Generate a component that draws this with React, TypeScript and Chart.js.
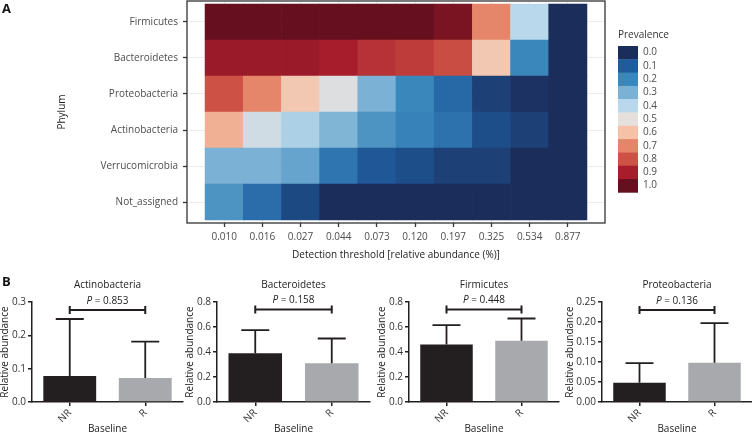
import React, { useEffect, useRef } from "react";
import { Chart, registerables } from "chart.js";

Chart.register(...registerables);
Chart.defaults.font.family = "'Open Sans', 'DejaVu Sans', sans-serif";

// ---------- Heatmap data (panel A) ----------
const thresholds = ["0.010", "0.016", "0.027", "0.044", "0.073", "0.120", "0.197", "0.325", "0.534", "0.877"];
const phyla = ["Firmicutes", "Bacteroidetes", "Proteobacteria", "Actinobacteria", "Verrucomicrobia", "Not_assigned"];
const prevFirmicutes = [1.0, 1.0, 1.0, 1.0, 1.0, 1.0, 0.97, 0.7, 0.4, 0.0];
const prevBacteroidetes = [0.92, 0.92, 0.92, 0.9, 0.86, 0.84, 0.81, 0.58, 0.2, 0.0];
const prevProteobacteria = [0.8, 0.7, 0.58, 0.48, 0.3, 0.2, 0.13, 0.04, 0.01, 0.0];
const prevActinobacteria = [0.63, 0.45, 0.38, 0.31, 0.23, 0.19, 0.15, 0.07, 0.04, 0.0];
const prevVerrucomicrobia = [0.3, 0.3, 0.27, 0.16, 0.09, 0.07, 0.04, 0.04, 0.0, 0.0];
const prevNotAssigned = [0.23, 0.14, 0.06, 0.0, 0.0, 0.0, 0.0, 0.0, 0.0, 0.0];
const prevalenceRows = [prevFirmicutes, prevBacteroidetes, prevProteobacteria, prevActinobacteria, prevVerrucomicrobia, prevNotAssigned];

const legendLevels = ["0.0", "0.1", "0.2", "0.3", "0.4", "0.5", "0.6", "0.7", "0.8", "0.9", "1.0"];
const legendColors = ["#1b2d5b", "#1f5c9e", "#3a87bc", "#7ab1d4", "#b9d8eb", "#e6e0dc", "#f5c2a7", "#e58569", "#cd5245", "#a71d2c", "#66101f"];

// ---------- Bar chart data (panel B) ----------
const groups = ["NR", "R"];
const actinoMeans = [0.078, 0.072];
const actinoUpper = [0.249, 0.181];
const bacteroMeans = [0.39, 0.31];
const bacteroUpper = [0.575, 0.508];
const firmiMeans = [0.46, 0.49];
const firmiUpper = [0.615, 0.668];
const proteoMeans = [0.048, 0.098];
const proteoUpper = [0.097, 0.197];
const pValues = ["0.853", "0.158", "0.448", "0.136"];
const bracketLevels = [0.276, 0.74, 0.74, 0.23];
const panelTitles = ["Actinobacteria", "Bacteroidetes", "Firmicutes", "Proteobacteria"];
const yMaxes = [0.3, 0.8, 0.8, 0.25];
const ySteps = [0.1, 0.2, 0.2, 0.05];
const yDecimals = [1, 1, 1, 2];

const barMeans = [actinoMeans, bacteroMeans, firmiMeans, proteoMeans];
const barUppers = [actinoUpper, bacteroUpper, firmiUpper, proteoUpper];

// layout (positions, not data)
const panelLayout = [
  { axisX: 32, yWidth: 33, plotWidth: 151, rightPad: 4 },
  { axisX: 217, yWidth: 33, plotWidth: 153, rightPad: 4 },
  { axisX: 409, yWidth: 33, plotWidth: 150, rightPad: 4 },
  { axisX: 602, yWidth: 38, plotWidth: 150, rightPad: 0 },
];
const barColors = ["#231f20", "#a7a9ac"];

function hexToRgb(h: string) {
  const n = parseInt(h.slice(1), 16);
  return [(n >> 16) & 255, (n >> 8) & 255, n & 255];
}
function prevColor(v: number) {
  const p = Math.max(0, Math.min(1, v)) * 10;
  const i = Math.min(9, Math.floor(p));
  const t = p - i;
  const a = hexToRgb(legendColors[i]);
  const b = hexToRgb(legendColors[i + 1]);
  const c = a.map((x, k) => Math.round(x + (b[k] - x) * t));
  return `rgb(${c[0]},${c[1]},${c[2]})`;
}

function Heatmap() {
  const ref = useRef<HTMLCanvasElement | null>(null);
  useEffect(() => {
    const cells: any[] = [];
    const colors: string[] = [];
    phyla.forEach((name, r) => {
      const yi = phyla.length - 1 - r;
      prevalenceRows[r].forEach((v, c) => {
        cells.push({ x: c, y: [yi, yi + 1] });
        colors.push(prevColor(v));
      });
    });
    const framePlugin = {
      id: "frame",
      afterDatasetsDraw(chart: any) {
        const { ctx, chartArea } = chart;
        ctx.save();
        ctx.strokeStyle = "#333333";
        ctx.lineWidth = 1.3;
        ctx.strokeRect(chartArea.left, chartArea.top, chartArea.right - chartArea.left, chartArea.bottom - chartArea.top);
        ctx.restore();
      },
      afterDraw(chart: any) {
        const ctx = chart.ctx;
        ctx.save();
        ctx.font = "10px 'Open Sans', sans-serif";
        ctx.fillStyle = "#333333";
        ctx.textAlign = "left";
        ctx.textBaseline = "middle";
        ctx.fillText("Prevalence", 618, 35);
        const top = 46, h = 13.3;
        legendLevels.forEach((lab, i) => {
          ctx.fillStyle = legendColors[i];
          ctx.fillRect(618, top + i * h, 20, h + 0.4);
          ctx.fillStyle = "#4d4d4d";
          ctx.fillText(lab, 643, top + i * h + h / 2);
        });
        ctx.restore();
      },
    };
    const chart = new Chart(ref.current as HTMLCanvasElement, {
      type: "bar",
      data: {
        datasets: [
          {
            data: cells,
            backgroundColor: colors,
            borderWidth: 0,
            barPercentage: 1,
            categoryPercentage: 1,
          } as any,
        ],
      },
      options: {
        animation: false,
        responsive: false,
        layout: { padding: { top: 1, right: 147, left: 0, bottom: 0 } },
        plugins: { legend: { display: false }, tooltip: { enabled: false }, title: { display: false } },
        scales: {
          x: {
            type: "linear",
            offset: false,
            min: -0.5 - 18 / 38,
            max: 9.5 + 18 / 38,
            afterBuildTicks: (s: any) => {
              s.ticks = thresholds.map((_, i) => ({ value: i }));
            },
            afterFit: (s: any) => {
              s.height = 42;
              s.paddingLeft = 0;
              s.paddingRight = 0;
            },
            ticks: {
              autoSkip: false,
              maxRotation: 0,
              minRotation: 0,
              padding: 4,
              color: "#4d4d4d",
              font: { size: 10 },
              callback: (_v: any, i: number) => thresholds[i],
            },
            grid: { offset: false, color: "#ebebeb", lineWidth: 1, tickColor: "#333333", tickLength: 4, tickWidth: 1.3 } as any,
            border: { display: false },
            title: {
              display: true,
              text: "Detection threshold [relative abundance (%)]",
              color: "#222222",
              font: { size: 10 },
              padding: { top: 0, bottom: 4 },
            },
          },
          y: {
            type: "linear",
            offset: false,
            min: -3 / 36,
            max: 6 + 3 / 36,
            afterBuildTicks: (s: any) => {
              s.ticks = phyla.map((_, i) => ({ value: i + 0.5 }));
            },
            afterFit: (s: any) => {
              s.width = 187;
              s.paddingTop = 0;
              s.paddingBottom = 0;
            },
            ticks: {
              autoSkip: false,
              padding: 5,
              color: "#4d4d4d",
              font: { size: 10 },
              callback: (_v: any, i: number) => phyla[phyla.length - 1 - i],
            },
            grid: { offset: false, color: "#ebebeb", lineWidth: 1, tickColor: "#333333", tickLength: 4, tickWidth: 1.3 } as any,
            border: { display: false },
            title: {
              display: true,
              text: "Phylum",
              color: "#222222",
              font: { size: 10 },
              padding: { top: 56, bottom: 0 },
            },
          },
        },
      } as any,
      plugins: [framePlugin],
    });
    return () => chart.destroy();
  }, []);
  return (
    <canvas
      ref={ref}
      width={752}
      height={265}
      style={{ position: "absolute", left: 0, top: 0, width: 752, height: 265 }}
    />
  );
}

function BarPanel({ idx }: { idx: number }) {
  const ref = useRef<HTMLCanvasElement | null>(null);
  const lay = panelLayout[idx];
  const width = lay.yWidth + lay.plotWidth + lay.rightPad;
  useEffect(() => {
    const upper = barUppers[idx];
    const errPlugin = {
      id: "errs",
      afterDatasetsDraw(chart: any) {
        const { ctx } = chart;
        const meta = chart.getDatasetMeta(0);
        const ys = chart.scales.y;
        ctx.save();
        ctx.strokeStyle = "#231f20";
        ctx.lineWidth = 1.8;
        meta.data.forEach((bar: any, i: number) => {
          const x = bar.x;
          const y0 = bar.y;
          const y1 = ys.getPixelForValue(upper[i]);
          ctx.beginPath();
          ctx.moveTo(x, y0);
          ctx.lineTo(x, y1);
          ctx.moveTo(x - 14, y1);
          ctx.lineTo(x + 14, y1);
          ctx.stroke();
        });
        const by = ys.getPixelForValue(bracketLevels[idx]);
        const xa = meta.data[0].x;
        const xb = meta.data[1].x;
        ctx.lineWidth = 2;
        ctx.beginPath();
        ctx.moveTo(xa, by);
        ctx.lineTo(xb, by);
        ctx.moveTo(xa, by - 4);
        ctx.lineTo(xa, by + 4);
        ctx.moveTo(xb, by - 4);
        ctx.lineTo(xb, by + 4);
        ctx.stroke();
        // P label
        const fam = "'Open Sans', sans-serif";
        const pPart = "P";
        const rest = " = " + pValues[idx];
        ctx.font = `italic 10px ${fam}`;
        const w1 = ctx.measureText(pPart).width;
        ctx.font = `10px ${fam}`;
        const w2 = ctx.measureText(rest).width;
        const cx = (xa + xb) / 2;
        const sx = cx - (w1 + w2) / 2;
        const ty = by - 9;
        ctx.fillStyle = "#222222";
        ctx.textBaseline = "middle";
        ctx.textAlign = "left";
        ctx.font = `italic 10px ${fam}`;
        ctx.fillText(pPart, sx, ty);
        ctx.font = `10px ${fam}`;
        ctx.fillText(rest, sx + w1, ty);
        ctx.restore();
      },
    };
    const chart = new Chart(ref.current as HTMLCanvasElement, {
      type: "bar",
      data: {
        labels: groups,
        datasets: [
          {
            data: barMeans[idx],
            backgroundColor: barColors,
            borderWidth: 0,
            barPercentage: 0.7,
            categoryPercentage: 1,
          },
        ],
      },
      options: {
        animation: false,
        responsive: false,
        layout: { padding: { right: lay.rightPad, left: 0, top: 0, bottom: 0 } },
        plugins: {
          legend: { display: false },
          tooltip: { enabled: false },
          title: {
            display: true,
            text: panelTitles[idx],
            fullSize: false,
            color: "#222222",
            font: { size: 10, weight: "normal" },
            padding: { top: 4, bottom: 11 },
          },
        },
        scales: {
          x: {
            type: "category",
            offset: true,
            afterFit: (s: any) => {
              s.height = 34;
            },
            grid: {
              display: true,
              drawOnChartArea: false,
              drawTicks: true,
              tickLength: 4,
              color: "#231f20",
              lineWidth: 1.5,
              offset: false,
            },
            border: { display: true, color: "#231f20", width: 1.5 },
            ticks: { minRotation: 45, maxRotation: 45, padding: 1, color: "#333333", font: { size: 10 } },
            title: {
              display: true,
              text: "Baseline",
              color: "#222222",
              font: { size: 10 },
              padding: { top: 0, bottom: 1 },
            },
          },
          y: {
            type: "linear",
            min: 0,
            max: yMaxes[idx],
            afterFit: (s: any) => {
              s.width = lay.yWidth;
            },
            ticks: {
              stepSize: ySteps[idx],
              padding: 2,
              color: "#333333",
              font: { size: 10 },
              callback: (v: any) => Number(v).toFixed(yDecimals[idx]),
            },
            grid: { drawOnChartArea: false, drawTicks: true, tickLength: 4, color: "#231f20", lineWidth: 1.5 },
            border: { display: true, color: "#231f20", width: 1.5 },
            title: {
              display: true,
              text: "Relative abundance",
              color: "#222222",
              font: { size: 10 },
              padding: { top: 0, bottom: 0 },
            },
          },
        },
      } as any,
      plugins: [errPlugin],
    });
    return () => chart.destroy();
  }, [idx]);
  return (
    <canvas
      ref={ref}
      width={width}
      height={161}
      style={{ position: "absolute", left: lay.axisX - lay.yWidth, top: 275, width, height: 161 }}
    />
  );
}

export default function App() {
  const labelStyle: React.CSSProperties = {
    position: "absolute",
    left: 2,
    font: "bold 13px 'Open Sans', sans-serif",
    lineHeight: "13px",
    color: "#111",
  };
  return (
    <div
      style={{
        position: "absolute",
        left: 0,
        top: 0,
        width: 752,
        height: 433,
        overflow: "hidden",
        background: "#ffffff",
        fontFamily: "'Open Sans', sans-serif",
      }}
    >
      <Heatmap />
      {[0, 1, 2, 3].map((i) => (
        <BarPanel key={i} idx={i} />
      ))}
      <div style={{ ...labelStyle, top: 2 }}>A</div>
      <div style={{ ...labelStyle, top: 275 }}>B</div>
    </div>
  );
}
